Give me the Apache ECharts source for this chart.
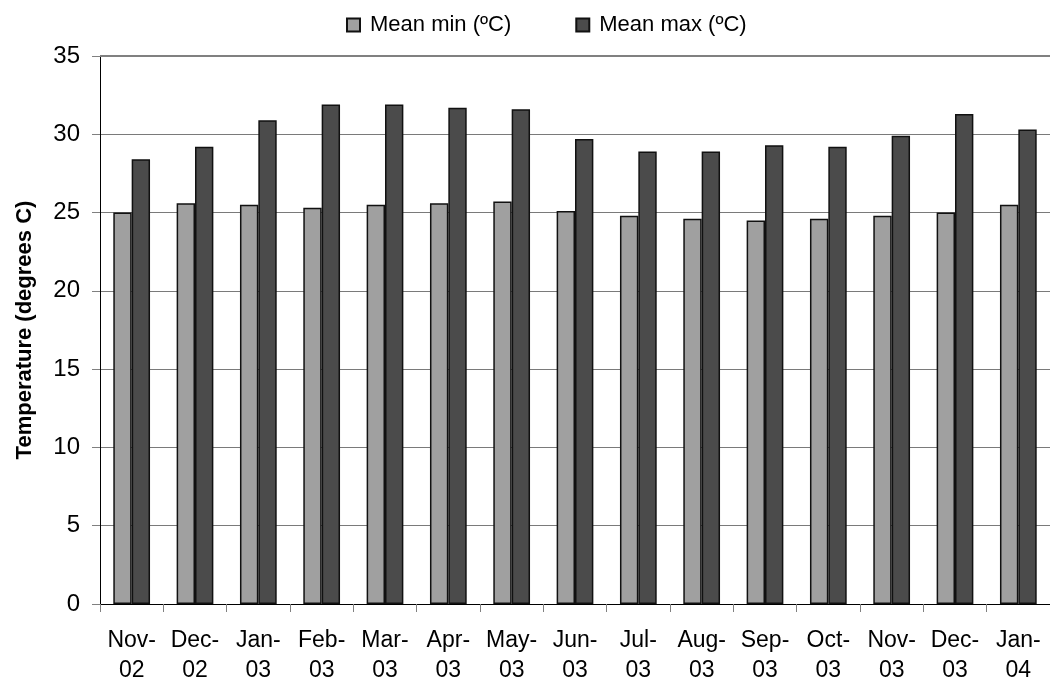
<!DOCTYPE html>
<html>
<head>
<meta charset="utf-8">
<script src="https://cdn.jsdelivr.net/npm/echarts@6/dist/echarts.min.js"></script>
<style>
html,body{margin:0;padding:0;background:#fff;}
#chart{width:1050px;height:686px;}
</style>
</head>
<body>
<div id="chart"></div>
<script>
const categories = ['Nov-\n02','Dec-\n02','Jan-\n03','Feb-\n03','Mar-\n03','Apr-\n03','May-\n03','Jun-\n03','Jul-\n03','Aug-\n03','Sep-\n03','Oct-\n03','Nov-\n03','Dec-\n03','Jan-\n04'];
const meanMin = [25.0,25.6,25.5,25.3,25.5,25.6,25.7,25.1,24.8,24.6,24.5,24.6,24.8,25.0,25.5];
const meanMax = [28.4,29.2,30.9,31.9,31.9,31.7,31.6,29.7,28.9,28.9,29.3,29.2,29.9,31.3,30.3];
const seriesNames = ['Mean min (ºC)','Mean max (ºC)'];
const yTicks = {min:0, max:35, interval:5};
const yTitle = 'Temperature (degrees C)';

const font = 'Liberation Sans, Arial, sans-serif';
const chart = echarts.init(document.getElementById('chart'), null, {renderer:'canvas'});
chart.setOption({
  animation:false,
  backgroundColor:'#fff',
  legend:{
    top:9, left:341,
    itemWidth:13, itemHeight:13, itemGap:64,
    icon:'rect',
    textStyle:{fontFamily:font, fontSize:22, color:'#000', padding:[0,0,0,5]},
    data:seriesNames
  },
  grid:{left:100, right:0, top:56, bottom:81, containLabel:false},
  xAxis:{
    type:'category', data:categories,
    axisLine:{show:true, lineStyle:{color:'#000', width:1}},
    axisTick:{show:true, alignWithLabel:false, length:8, lineStyle:{color:'#808080'}},
    axisLabel:{fontFamily:font, fontSize:23, color:'#000', lineHeight:30, margin:22, interval:0}
  },
  yAxis:{
    type:'value', min:yTicks.min, max:yTicks.max, interval:yTicks.interval,
    name:yTitle, nameLocation:'middle', nameGap:64, nameRotate:90,
    nameTextStyle:{fontFamily:font, fontSize:22, fontWeight:'bold', color:'#000'},
    axisLine:{show:true, lineStyle:{color:'#000', width:1}},
    axisTick:{show:true, inside:false, length:8, lineStyle:{color:'#808080'}},
    axisLabel:{fontFamily:font, fontSize:24, color:'#000', margin:20},
    splitLine:{show:true, lineStyle:{color:'#7a7a7a', width:1}}
  },
  series:[
    {name:seriesNames[0], type:'bar', data:meanMin, barGap:'0%', barCategoryGap:'42%',
     itemStyle:{color:'#a0a0a0', borderColor:'#111', borderWidth:1.5},
     markLine:{silent:true, symbol:'none', label:{show:false},
       lineStyle:{color:'#808080', width:2, type:'solid'}, data:[{yAxis:yTicks.max}]}},
    {name:seriesNames[1], type:'bar', data:meanMax, barGap:'0%', barCategoryGap:'42%',
     itemStyle:{color:'#4b4b4b', borderColor:'#111', borderWidth:1.5}}
  ]
});
</script>
</body>
</html>
